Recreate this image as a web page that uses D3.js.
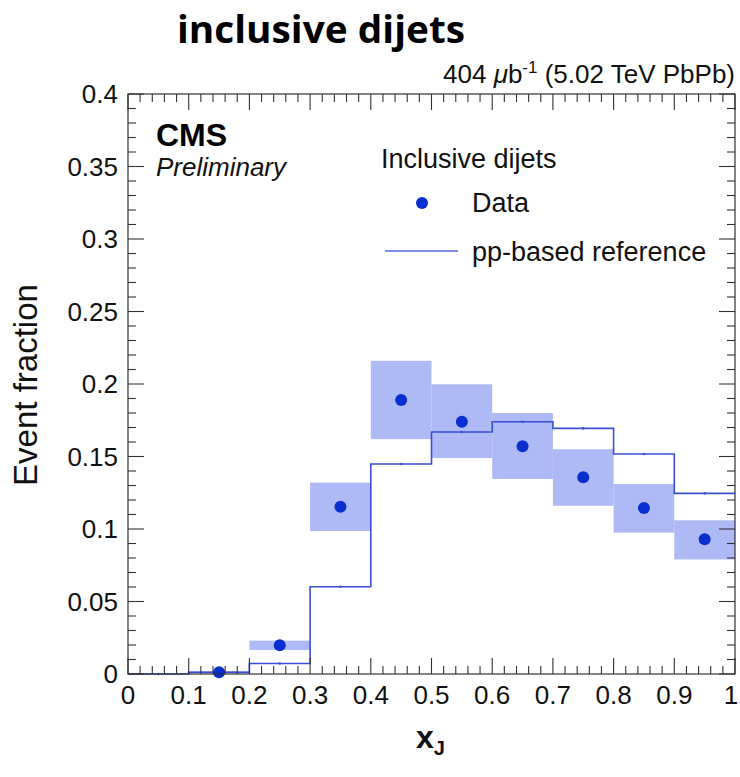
<!DOCTYPE html>
<html>
<head>
<meta charset="utf-8">
<script src="https://cdn.jsdelivr.net/npm/d3@7"></script>
<style>
  body { margin: 0; background: #fff; }
  svg { display: block; }
</style>
</head>
<body>
<svg id="chart" width="740" height="777"></svg>
<script>
// bin edges / centres in x_J
const binLow  = [0.0, 0.1, 0.2, 0.3, 0.4, 0.5, 0.6, 0.7, 0.8, 0.9];
const binHigh = [0.1, 0.2, 0.3, 0.4, 0.5, 0.6, 0.7, 0.8, 0.9, 1.0];

// pp-based reference histogram
const refValues = [0.0, 0.0012, 0.0072, 0.0602, 0.1448, 0.1669, 0.1740, 0.1694, 0.1517, 0.1246];

// PbPb data (bins 0.1 .. 1.0), with systematic band
const dataX    = [0.15, 0.25, 0.35, 0.45, 0.55, 0.65, 0.75, 0.85, 0.95];
const dataY    = [0.0012, 0.0198, 0.1154, 0.1890, 0.1740, 0.1570, 0.1357, 0.1145, 0.0930];
const sysLow   = [0.0004, 0.0166, 0.0986, 0.1620, 0.1490, 0.1345, 0.1160, 0.0975, 0.0790];
const sysHigh  = [0.0020, 0.0230, 0.1320, 0.2160, 0.1998, 0.1800, 0.1550, 0.1310, 0.1060];
const dataLow  = [0.1, 0.2, 0.3, 0.4, 0.5, 0.6, 0.7, 0.8, 0.9];
const dataHigh = [0.2, 0.3, 0.4, 0.5, 0.6, 0.7, 0.8, 0.9, 1.0];

const xTicks = [0, 0.1, 0.2, 0.3, 0.4, 0.5, 0.6, 0.7, 0.8, 0.9, 1];
const yTicks = [0, 0.05, 0.1, 0.15, 0.2, 0.25, 0.3, 0.35, 0.4];

const svg = d3.select("#chart");
const pLeft = 128, pRight = 735, pTop = 94, pBottom = 674;

const x = d3.scaleLinear().domain([0, 1]).range([pLeft, pRight]);
const y = d3.scaleLinear().domain([0, 0.4]).range([pBottom, pTop]);

const font = "'Liberation Sans', Arial, Helvetica, sans-serif";
const markColor = "#0a2fd0";
const lineColor = "#3a4fd6";
const boxColor = "#aebaf6";

// systematic boxes
svg.append("g").selectAll("rect")
  .data(dataX)
  .join("rect")
  .attr("x", (d, i) => x(dataLow[i]))
  .attr("width", (d, i) => x(dataHigh[i]) - x(dataLow[i]))
  .attr("y", (d, i) => y(sysHigh[i]))
  .attr("height", (d, i) => y(sysLow[i]) - y(sysHigh[i]))
  .attr("fill", boxColor);

// reference step histogram
let pts = [];
refValues.forEach((v, i) => {
  pts.push([x(binLow[i]), y(v)]);
  pts.push([x(binHigh[i]), y(v)]);
});
svg.append("path")
  .attr("d", d3.line()(pts))
  .attr("fill", "none")
  .attr("stroke", lineColor)
  .attr("stroke-width", 1.6);

// little markers at bin centres of the reference
svg.append("g").selectAll("circle")
  .data(refValues)
  .join("circle")
  .attr("cx", (d, i) => x((binLow[i] + binHigh[i]) / 2))
  .attr("cy", d => y(d))
  .attr("r", 1.3)
  .attr("fill", lineColor);

// data points
svg.append("g").selectAll("circle")
  .data(dataX)
  .join("circle")
  .attr("cx", d => x(d))
  .attr("cy", (d, i) => y(dataY[i]))
  .attr("r", 6)
  .attr("fill", markColor);

// frame
svg.append("rect")
  .attr("x", pLeft).attr("y", pTop)
  .attr("width", pRight - pLeft).attr("height", pBottom - pTop)
  .attr("fill", "none")
  .attr("stroke", "#333")
  .attr("stroke-width", 1.2);

// ticks on all four sides (ROOT style)
const tickG = svg.append("g").attr("stroke", "#333").attr("stroke-width", 1.1);
const xMinor = d3.range(0, 1.0001, 0.02);
xMinor.forEach(t => {
  const major = Math.abs(t * 10 - Math.round(t * 10)) < 1e-6;
  const len = major ? 16 : 8;
  tickG.append("line").attr("x1", x(t)).attr("x2", x(t)).attr("y1", pBottom).attr("y2", pBottom - len);
  tickG.append("line").attr("x1", x(t)).attr("x2", x(t)).attr("y1", pTop).attr("y2", pTop + len);
});
const yMinor = d3.range(0, 0.4001, 0.01);
yMinor.forEach(t => {
  const major = Math.abs(t * 20 - Math.round(t * 20)) < 1e-6;
  const len = major ? 16 : 8;
  tickG.append("line").attr("x1", pLeft).attr("x2", pLeft + len).attr("y1", y(t)).attr("y2", y(t));
  tickG.append("line").attr("x1", pRight).attr("x2", pRight - len).attr("y1", y(t)).attr("y2", y(t));
});

// tick labels (last one nudged so it stays inside the page)
svg.append("g").selectAll("text")
  .data(xTicks)
  .join("text")
  .attr("x", d => Math.min(x(d), 731))
  .attr("y", 704)
  .attr("text-anchor", "middle")
  .attr("font-family", font)
  .attr("font-size", 26)
  .attr("fill", "#111")
  .text(d => d3.format("")(d));

svg.append("g").selectAll("text")
  .data(yTicks)
  .join("text")
  .attr("x", 118)
  .attr("y", d => y(d) + 9)
  .attr("text-anchor", "end")
  .attr("font-family", font)
  .attr("font-size", 26)
  .attr("fill", "#111")
  .text(d => d3.format("")(d));

// axis titles
svg.append("text")
  .attr("transform", "translate(37,385) rotate(-90)")
  .attr("text-anchor", "middle")
  .attr("font-family", font)
  .attr("font-size", 33)
  .attr("fill", "#111")
  .text("Event fraction");

const xl = svg.append("text")
  .attr("x", 416).attr("y", 748)
  .attr("font-family", font)
  .attr("font-size", 32)
  .attr("font-weight", "bold")
  .attr("fill", "#111");
xl.append("tspan").text("x");
xl.append("tspan").attr("font-size", 20).attr("dy", 7).text("J");

// title
svg.append("text")
  .attr("x", 177).attr("y", 43)
  .attr("font-family", "'Open Sans', Lato, sans-serif")
  .attr("font-size", 38)
  .attr("font-weight", "bold")
  .attr("textLength", 288)
  .attr("lengthAdjust", "spacingAndGlyphs")
  .attr("fill", "#000")
  .text("inclusive dijets");

// luminosity label
const lum = svg.append("text")
  .attr("x", 735).attr("y", 83)
  .attr("text-anchor", "end")
  .attr("font-family", font)
  .attr("font-size", 26)
  .attr("fill", "#111");
lum.append("tspan").text("404 ");
lum.append("tspan").attr("font-style", "italic").text("\u03bc");
lum.append("tspan").text("b");
lum.append("tspan").attr("font-size", 17).attr("dy", -10).text("-1");
lum.append("tspan").attr("dy", 10).text(" (5.02 TeV PbPb)");

// CMS Preliminary
svg.append("text")
  .attr("x", 156).attr("y", 146)
  .attr("font-family", font)
  .attr("font-size", 32)
  .attr("font-weight", "bold")
  .attr("fill", "#000")
  .text("CMS");
svg.append("text")
  .attr("x", 156).attr("y", 176)
  .attr("font-family", font)
  .attr("font-size", 26)
  .attr("font-style", "italic")
  .attr("fill", "#111")
  .text("Preliminary");

// legend
svg.append("text")
  .attr("x", 381).attr("y", 168)
  .attr("font-family", font)
  .attr("font-size", 27)
  .attr("fill", "#111")
  .text("Inclusive dijets");
svg.append("circle")
  .attr("cx", 422).attr("cy", 203).attr("r", 6)
  .attr("fill", markColor);
svg.append("text")
  .attr("x", 472).attr("y", 212)
  .attr("font-family", font)
  .attr("font-size", 27)
  .attr("fill", "#111")
  .text("Data");
svg.append("line")
  .attr("x1", 385).attr("x2", 458).attr("y1", 251).attr("y2", 251)
  .attr("stroke", "#7f8ee8")
  .attr("stroke-width", 1.8);
svg.append("text")
  .attr("x", 472).attr("y", 261)
  .attr("font-family", font)
  .attr("font-size", 27)
  .attr("fill", "#111")
  .text("pp-based reference");
</script>
</body>
</html>
